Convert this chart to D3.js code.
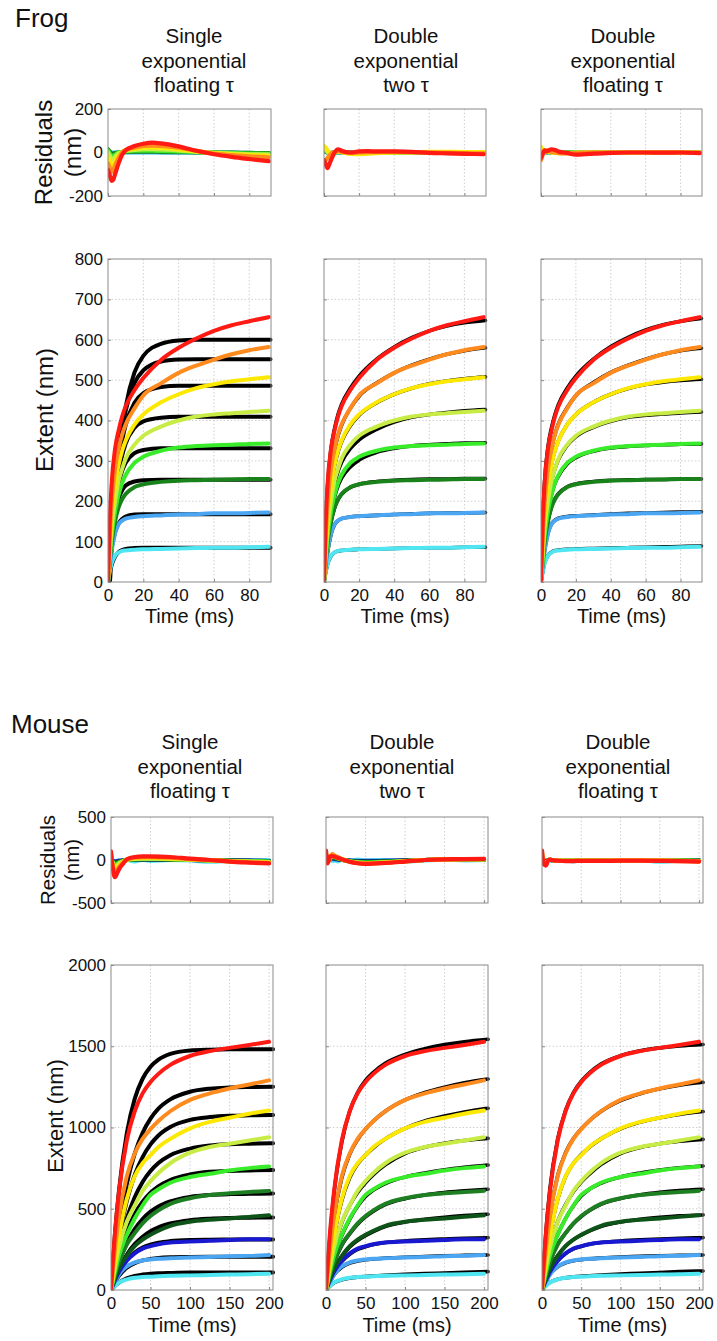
<!DOCTYPE html>
<html lang="en">
<head>
<meta charset="UTF-8">
<title>Frog / Mouse fits</title>
<script src="https://cdnjs.cloudflare.com/ajax/libs/d3/7.8.5/d3.min.js"></script>
<style>
  body { margin: 0; background: #fff; }
  text { font-family: "Liberation Sans", Arial, sans-serif; fill: #111; }
  .grid line { stroke: #c4c4c4; stroke-dasharray: 1.5 2; stroke-width: 0.8; }
  .box { fill: none; stroke: #8a8a8a; stroke-width: 1; }
  .axis path { display: none; }
  .axis line { stroke: #8a8a8a; }
</style>
</head>
<body>
<script>
// ---- data ----
const fitTitles = [["Single", "exponential", "floating \u03c4"],
                   ["Double", "exponential", "two \u03c4"],
                   ["Double", "exponential", "floating \u03c4"]];

// Frog: curves ordered bottom -> top
const frogColors = ["#4fe6f2", "#4aa6f2", "#1a821a", "#38ec2a", "#c8ec46", "#fce800", "#ff8a1e", "#ff1a14"];
const frogT    = [0, 1, 2, 4, 6, 8, 10, 15, 20, 30, 40, 50, 60, 70, 80, 91];
const frogFitT = [0, 1, 2, 4, 6, 8, 10, 15, 20, 30, 40, 50, 60, 70, 80, 92];
const frogResT = [0, 1, 2, 3, 4, 6, 8, 10, 15, 20, 25, 30, 40, 50, 60, 70, 80, 91];
const frogTimeTicks = [0, 20, 40, 60, 80];
const frogExtentTicks = [0, 100, 200, 300, 400, 500, 600, 700, 800];
const frogResTicks = [-200, 0, 200];

const frogData = [
  [0, 25, 45, 65, 73, 77, 78, 80, 81, 82, 83, 84, 85, 85, 86, 87],
  [0, 40, 75, 120, 143, 152, 157, 161, 163, 165, 167, 168, 170, 170, 171, 172],
  [0, 50, 95, 150, 185, 205, 218, 235, 242, 248, 251, 252, 253, 254, 255, 255],
  [0, 60, 110, 175, 215, 245, 265, 295, 310, 325, 333, 337, 339, 340, 342, 343],
  [0, 70, 130, 200, 250, 280, 305, 340, 362, 385, 400, 410, 415, 418, 421, 424],
  [0, 90, 160, 240, 290, 325, 350, 390, 415, 445, 465, 480, 490, 497, 502, 507],
  [0, 110, 190, 280, 330, 365, 390, 430, 462, 492, 518, 536, 551, 564, 574, 582],
  [0, 150, 240, 330, 375, 410, 435, 475, 505, 550, 580, 603, 622, 636, 646, 656]
];
const frogFitSingle = [
  [0, 24, 41, 63, 74, 79, 82, 84, 85, 85, 85, 85, 85, 85, 85, 85],
  [0, 48, 82, 124, 145, 156, 162, 167, 168, 168, 168, 168, 168, 168, 168, 168],
  [0, 63, 110, 172, 207, 227, 239, 249, 252, 253, 253, 253, 253, 253, 253, 253],
  [0, 66, 119, 195, 244, 275, 295, 319, 327, 331, 331, 331, 331, 331, 331, 331],
  [0, 68, 125, 211, 272, 313, 343, 382, 398, 407, 409, 409, 409, 409, 409, 409],
  [0, 53, 120, 224, 298, 351, 389, 444, 468, 483, 486, 486, 486, 486, 486, 486],
  [0, 41, 114, 230, 315, 378, 424, 493, 524, 546, 551, 552, 552, 552, 552, 552],
  [0, 0, 80, 209, 306, 379, 434, 519, 560, 590, 598, 600, 600, 600, 600, 600]
];
const frogFitTwoTau = [
  [0, 24, 44, 64, 73, 77, 78, 80, 81, 82, 83, 84, 85, 85, 86, 86],
  [0, 38, 72, 118, 142, 152, 157, 161, 163, 165, 167, 169, 170, 171, 171, 172],
  [0, 48, 92, 148, 183, 204, 217, 234, 242, 249, 252, 254, 255, 255, 256, 256],
  [0, 58, 105, 170, 210, 238, 257, 285, 302, 321, 331, 337, 340, 342, 344, 345],
  [0, 68, 125, 195, 243, 274, 296, 330, 352, 378, 396, 408, 415, 420, 424, 427],
  [0, 85, 155, 238, 288, 322, 347, 387, 413, 444, 465, 480, 491, 498, 503, 508],
  [0, 105, 185, 275, 328, 362, 388, 430, 460, 493, 518, 537, 552, 564, 573, 580],
  [0, 140, 235, 330, 380, 415, 440, 480, 510, 552, 582, 605, 622, 634, 642, 648]
];
const frogFitFloat = [
  [0, 25, 46, 66, 74, 78, 79, 81, 82, 83, 84, 85, 86, 87, 88, 89],
  [0, 40, 76, 121, 144, 153, 158, 162, 164, 166, 168, 170, 171, 172, 173, 174],
  [0, 50, 96, 151, 186, 206, 219, 236, 243, 249, 252, 253, 254, 254, 255, 255],
  [0, 60, 112, 176, 216, 244, 262, 292, 308, 324, 332, 336, 338, 340, 341, 342],
  [0, 72, 132, 202, 250, 280, 303, 338, 360, 383, 398, 408, 413, 416, 419, 421],
  [0, 90, 162, 242, 292, 326, 350, 390, 415, 445, 465, 479, 489, 495, 499, 502],
  [0, 112, 192, 282, 332, 366, 392, 432, 462, 494, 519, 537, 552, 564, 573, 579],
  [0, 150, 245, 335, 382, 415, 440, 480, 510, 552, 583, 606, 624, 637, 646, 653]
];
const frogResSingle = [
  [5, 2, 0, 0, 0, 0, 0, 1, 1, 1, 1, 1, 0, 0, 0, -2, -3, -5],
  [5, 0, -3, -2, -1, 0, 1, 1, 2, 2, 2, 1, 1, 0, 0, -1, -2, -3],
  [15, 5, -5, -5, -3, 0, 2, 3, 4, 4, 4, 3, 2, 1, 0, -1, -2, -3],
  [10, -5, -15, -15, -10, 0, 3, 5, 8, 8, 8, 7, 5, 2, -1, -3, -5, -6],
  [0, -15, -30, -30, -20, -5, 3, 8, 12, 15, 15, 14, 10, 4, -2, -5, -8, -10],
  [-20, -40, -60, -55, -40, -15, 0, 10, 18, 22, 24, 22, 15, 5, -3, -8, -12, -15],
  [-50, -70, -90, -80, -60, -25, 0, 12, 22, 30, 32, 30, 22, 8, -5, -12, -18, -22],
  [-80, -105, -130, -125, -100, -50, -10, 10, 30, 40, 45, 42, 28, 8, -8, -20, -30, -40]
];
const frogResTwoTau = [
  [3, 2, 0, -2, -1, 0, 1, 0, 0, 0, 0, 0, 0, 0, 0, 0, 0, 0],
  [5, 3, 0, -3, -2, 0, 1, 1, 0, 0, 0, 0, 0, 0, 0, 0, 0, 0],
  [8, 5, 0, -5, -3, 0, 2, 1, 0, 0, 0, 0, 0, 0, 0, 0, 0, -1],
  [12, 8, 2, -5, -5, 0, 3, 2, -2, -3, -2, -1, 0, 0, 1, 1, 0, -1],
  [20, 15, 5, -5, -5, 0, 3, 2, -4, -5, -3, -2, 0, 0, 2, 2, 1, 0],
  [30, 22, 10, 0, -3, 0, 4, 2, -6, -8, -5, -3, 0, 1, 3, 3, 2, 2],
  [-40, -35, -25, -15, -5, 2, 6, 4, -2, 0, 2, 2, 3, 2, 0, -2, -3, -4],
  [-35, -55, -72, -55, -35, 0, 15, 8, 0, 5, 6, 5, 5, 3, -2, -4, -6, -8]
];
const frogResFloat = [
  [2, 1, 0, 0, 0, 0, 0, 0, 0, 0, 0, 0, 0, 0, 0, 0, 0, 0],
  [5, 3, 2, 0, 0, 0, 0, 0, 0, 0, 0, 0, 0, 0, 0, 0, 0, 0],
  [8, 6, 3, 2, 1, 0, 0, 0, 0, 0, 0, 0, 0, 0, 0, 0, 0, 0],
  [12, 8, 5, 3, 2, 0, -1, -1, -1, 0, 0, 0, 0, 0, 0, 0, 0, 0],
  [18, 12, 8, 5, 3, 0, -2, -2, -2, -1, 0, 0, 0, 0, 0, 0, 0, 0],
  [25, 15, 10, 8, 5, 2, -2, -3, -3, -2, -1, 0, 0, 0, 0, 0, 0, -1],
  [-35, -10, 5, 10, 8, 3, 0, -3, -4, -3, -1, 0, 0, 0, 0, 0, 0, -1],
  [-25, -5, 10, 5, 8, 15, 12, 5, -2, -10, -8, -5, -2, 0, 0, -1, 0, -3]
];

// Mouse: curves ordered bottom -> top
const mouseColors = ["#4fe6f2", "#4aa6f2", "#1818d0", "#0e5418", "#1e7e22", "#38ec2a", "#c8ec46", "#fce800", "#ff8a1e", "#ff1a14"];
const mouseT    = [0, 5, 10, 20, 30, 40, 50, 60, 75, 100, 125, 150, 175, 200];
const mouseFitT = [0, 5, 10, 20, 30, 40, 50, 60, 75, 100, 125, 150, 175, 205];
const mouseResT = [0, 2, 5, 8, 10, 15, 20, 30, 40, 50, 75, 100, 125, 150, 175, 200];
const mouseTimeTicks = [0, 50, 100, 150, 200];
const mouseExtentTicks = [0, 500, 1000, 1500, 2000];
const mouseResTicks = [-500, 0, 500];

const mouseData = [
  [0, 25, 45, 65, 75, 80, 82, 85, 88, 90, 92, 95, 97, 100],
  [0, 50, 95, 145, 170, 182, 188, 192, 195, 200, 203, 208, 210, 215],
  [0, 60, 110, 180, 225, 255, 270, 282, 292, 298, 303, 308, 312, 312],
  [0, 70, 130, 210, 270, 310, 340, 365, 395, 420, 432, 440, 450, 460],
  [0, 90, 170, 280, 350, 410, 455, 490, 530, 565, 585, 595, 603, 610],
  [0, 110, 210, 340, 440, 520, 585, 620, 660, 695, 715, 735, 750, 760],
  [0, 140, 260, 420, 520, 610, 670, 720, 780, 845, 880, 900, 920, 940],
  [0, 180, 330, 560, 700, 780, 830, 880, 930, 995, 1035, 1060, 1085, 1105],
  [0, 250, 450, 700, 840, 930, 990, 1040, 1100, 1170, 1210, 1240, 1265, 1290],
  [0, 350, 600, 920, 1100, 1210, 1280, 1330, 1385, 1440, 1470, 1490, 1508, 1528]
];
const mouseFitSingle = [
  [0, 26, 46, 72, 87, 95, 100, 103, 105, 107, 107, 107, 107, 107],
  [0, 50, 87, 137, 165, 182, 191, 197, 201, 203, 204, 204, 204, 204],
  [0, 63, 114, 186, 231, 261, 279, 291, 301, 308, 310, 311, 311, 311],
  [0, 69, 126, 217, 282, 328, 362, 386, 409, 430, 439, 443, 445, 446],
  [0, 91, 168, 289, 375, 437, 482, 514, 545, 573, 585, 590, 592, 594],
  [0, 114, 209, 359, 466, 543, 599, 638, 677, 711, 727, 733, 736, 738],
  [0, 139, 256, 440, 571, 665, 732, 781, 829, 870, 889, 897, 900, 903],
  [0, 177, 323, 549, 708, 818, 896, 951, 1003, 1047, 1064, 1072, 1075, 1077],
  [0, 211, 388, 654, 839, 967, 1055, 1116, 1173, 1220, 1239, 1246, 1249, 1251],
  [0, 342, 606, 964, 1176, 1300, 1374, 1418, 1453, 1474, 1479, 1481, 1481, 1481]
];
const mouseFitTwoTau = [
  [0, 24, 44, 63, 73, 79, 83, 86, 90, 96, 101, 105, 109, 113],
  [0, 48, 92, 140, 165, 178, 186, 191, 196, 202, 206, 210, 213, 215],
  [0, 58, 108, 175, 220, 250, 266, 280, 292, 302, 309, 314, 318, 322],
  [0, 68, 128, 205, 265, 305, 335, 360, 390, 418, 435, 448, 458, 466],
  [0, 85, 165, 275, 345, 405, 450, 485, 525, 562, 585, 600, 610, 620],
  [0, 105, 205, 335, 435, 515, 575, 615, 655, 695, 720, 740, 755, 769],
  [0, 135, 255, 415, 520, 600, 660, 710, 770, 840, 878, 903, 920, 933],
  [0, 175, 325, 550, 690, 775, 830, 875, 930, 995, 1040, 1070, 1095, 1118],
  [0, 245, 440, 690, 835, 925, 990, 1040, 1100, 1170, 1215, 1248, 1275, 1298],
  [0, 330, 590, 910, 1100, 1215, 1290, 1340, 1395, 1450, 1485, 1510, 1528, 1543]
];
const mouseFitFloat = [
  [0, 26, 46, 66, 75, 81, 85, 88, 92, 98, 103, 108, 113, 117],
  [0, 50, 95, 143, 167, 180, 187, 192, 197, 203, 207, 211, 213, 215],
  [0, 62, 112, 180, 224, 253, 268, 281, 292, 302, 309, 314, 318, 322],
  [0, 72, 132, 212, 270, 310, 338, 362, 391, 418, 435, 447, 456, 462],
  [0, 92, 172, 282, 350, 408, 452, 487, 527, 563, 586, 601, 612, 620],
  [0, 112, 212, 342, 440, 518, 578, 618, 657, 696, 720, 738, 752, 763],
  [0, 142, 260, 422, 525, 605, 665, 712, 772, 840, 877, 900, 915, 927],
  [0, 182, 332, 558, 698, 780, 833, 878, 930, 992, 1033, 1060, 1080, 1098],
  [0, 255, 455, 705, 845, 932, 992, 1040, 1098, 1165, 1208, 1238, 1260, 1278],
  [0, 360, 620, 930, 1105, 1215, 1285, 1335, 1390, 1442, 1472, 1490, 1502, 1511]
];
const mouseResSingle = [
  [0, -5, -10, -25, -10, -20, 0, -15, 5, -10, 0, -5, -20, -10, 0, -5],
  [0, -5, -15, -10, -8, -3, 0, 2, 3, 3, 2, 0, -2, -4, -5, -8],
  [0, -8, -20, -15, -10, -5, 0, 3, 4, 4, 3, 0, -2, -5, -8, -12],
  [5, -10, -30, -25, -18, -8, 0, 5, 6, 6, 5, 1, -2, -6, -10, -14],
  [8, -15, -40, -32, -24, -10, 0, 8, 10, 10, 8, 2, -3, -8, -12, -16],
  [15, -20, -55, -45, -32, -12, 0, 10, 12, 12, 10, 3, -3, -10, -15, -20],
  [25, -30, -80, -65, -45, -18, 2, 14, 16, 16, 13, 4, -4, -12, -18, -24],
  [40, -45, -110, -90, -65, -25, 3, 20, 25, 25, 20, 7, -4, -14, -22, -30],
  [70, -60, -150, -115, -85, -35, 5, 28, 33, 33, 27, 10, -3, -16, -26, -34],
  [100, -80, -200, -150, -110, -45, 8, 35, 42, 42, 35, 15, 0, -18, -30, -40]
];
const mouseResTwoTau = [
  [0, -5, 0, -10, -5, -15, 0, -10, 5, -5, 0, -20, -5, 5, -5, 0],
  [10, 0, 5, 10, 8, 3, 0, -5, -8, -8, -6, -3, 0, 2, 2, 2],
  [20, 0, 8, 20, 15, 8, 2, -8, -12, -14, -10, -5, 0, 3, 3, 3],
  [30, -2, 10, 30, 22, 12, 3, -10, -18, -20, -15, -8, 0, 4, 5, 5],
  [40, -5, 12, 40, 30, 16, 4, -12, -22, -25, -19, -10, 0, 5, 6, 6],
  [50, -8, 15, 48, 38, 20, 5, -15, -26, -30, -23, -12, 0, 6, 7, 7],
  [60, -10, 15, 55, 45, 25, 8, -18, -30, -35, -27, -14, 0, 6, 8, 8],
  [75, -12, 18, 62, 50, 28, 10, -20, -33, -38, -30, -15, 0, 7, 9, 9],
  [90, -15, 18, 70, 55, 32, 12, -22, -36, -42, -32, -16, 0, 7, 9, 10],
  [110, -40, 40, 45, 40, 25, 10, -20, -38, -45, -35, -18, 0, 8, 10, 12]
];
const mouseResFloat = [
  [0, -5, -5, 0, -5, -10, 0, -5, -15, 0, -5, -10, 0, -20, -5, 0],
  [10, -5, -8, 0, 0, -1, -1, -2, -2, -2, -1, -1, -1, -1, -2, -3],
  [20, -10, -15, 0, 1, -2, -2, -3, -3, -3, -2, -2, -2, -2, -3, -4],
  [30, -15, -22, 0, 1, -2, -3, -4, -4, -4, -3, -3, -3, -3, -5, -6],
  [45, -20, -30, 0, 2, -2, -3, -5, -5, -5, -4, -4, -4, -4, -6, -8],
  [55, -25, -38, 0, 2, -3, -4, -6, -6, -6, -5, -4, -4, -5, -7, -10],
  [70, -30, -45, 0, 3, -3, -5, -8, -8, -7, -6, -5, -5, -6, -9, -12],
  [80, -35, -52, 0, 3, -4, -6, -9, -9, -8, -7, -6, -6, -7, -10, -14],
  [95, -38, -58, 0, 4, -4, -7, -10, -10, -9, -8, -7, -7, -8, -12, -16],
  [110, -40, -65, 0, 5, -5, -8, -12, -12, -10, -10, -8, -8, -10, -14, -18]
];

// ---- layout ----
const W = 717, H = 1341;
const svg = d3.select("body").append("svg").attr("width", W).attr("height", H);

let clipId = 0;

// one boxed panel with dotted grid and lines
function panel(opt) {
  const x = d3.scaleLinear().domain(opt.xDomain).range([opt.left, opt.right]);
  const y = d3.scaleLinear().domain(opt.yDomain).range([opt.bottom, opt.top]);
  const g = svg.append("g");

  const grid = g.append("g").attr("class", "grid");
  grid.selectAll(".gx").data(opt.xTicks.filter(d => d > opt.xDomain[0] && d < opt.xDomain[1]))
    .join("line").attr("x1", d => x(d)).attr("x2", d => x(d)).attr("y1", opt.top).attr("y2", opt.bottom);
  grid.selectAll(".gy").data(opt.yTicks.filter(d => d > opt.yDomain[0] && d < opt.yDomain[1]))
    .join("line").attr("y1", d => y(d)).attr("y2", d => y(d)).attr("x1", opt.left).attr("x2", opt.right);

  // inward tick marks, labels only where the reference has them
  const ax = g.append("g").attr("class", "axis").attr("transform", `translate(0,${opt.bottom})`)
    .call(d3.axisBottom(x).tickValues(opt.xTicks).tickSize(-3).tickPadding(7).tickFormat(d => String(d)));
  if (!opt.xLabels) ax.selectAll("text").remove();
  else ax.selectAll("text").style("font-size", "17px").attr("fill", "#111");

  const ay = g.append("g").attr("class", "axis").attr("transform", `translate(${opt.left},0)`)
    .call(d3.axisLeft(y).tickValues(opt.yTicks).tickSize(-3).tickPadding(5).tickFormat(d => String(d)));
  if (!opt.yLabels) ay.selectAll("text").remove();
  else ay.selectAll("text").style("font-size", "17px").attr("fill", "#111");

  const id = "clip" + (clipId++);
  g.append("clipPath").attr("id", id).append("rect")
    .attr("x", opt.left).attr("y", opt.top - 2)
    .attr("width", opt.right - opt.left + 2).attr("height", opt.bottom - opt.top + 2);
  const plot = g.append("g").attr("clip-path", `url(#${id})`);

  opt.series.forEach(s => {
    const line = d3.line().x((d, i) => x(s.t[i])).y(d => y(d)).curve(d3.curveMonotoneX);
    plot.append("path").datum(s.v)
      .attr("d", line).attr("fill", "none")
      .attr("stroke", s.color).attr("stroke-width", s.width)
      .attr("stroke-linejoin", "round").attr("stroke-linecap", "round");
  });

  g.append("rect").attr("class", "box")
    .attr("x", opt.left).attr("y", opt.top)
    .attr("width", opt.right - opt.left).attr("height", opt.bottom - opt.top);
}

function rotLabel(text, cx, cy, size) {
  svg.append("text").attr("transform", `translate(${cx},${cy}) rotate(-90)`)
    .attr("text-anchor", "middle").attr("dy", "0.35em")
    .style("font-size", size + "px").text(text);
}

function group(cfg) {
  svg.append("text").attr("x", cfg.nameX).attr("y", cfg.nameY)
    .style("font-size", "26px").text(cfg.name);

  cfg.cols.forEach((col, c) => {
    const t = svg.append("text").attr("text-anchor", "middle").style("font-size", "20.5px");
    fitTitles[c].forEach((s, i) => {
      t.append("tspan").attr("x", cfg.titleX[c]).attr("y", cfg.titleY + i * 24.5).text(s);
    });

    // residuals
    panel({
      left: col[0], right: col[1], top: cfg.resY[0], bottom: cfg.resY[1],
      xDomain: cfg.xDomain, yDomain: [cfg.resTicks[0], cfg.resTicks[2]],
      xTicks: cfg.timeTicks, yTicks: cfg.resTicks, xLabels: false, yLabels: c === 0,
      series: cfg.res[c].map((v, i) => ({ t: cfg.resT, v, color: cfg.colors[i], width: 4.2 }))
    });
    // extent: fitted lines first, data traces over them
    const series = [];
    cfg.fits[c].forEach(v => series.push({ t: cfg.fitT, v, color: "#000", width: c === 0 ? 4 : 3.6 }));
    cfg.data.forEach((v, i) => series.push({ t: cfg.dataT, v, color: cfg.colors[i], width: 4 }));
    panel({
      left: col[0], right: col[1], top: cfg.extY[0], bottom: cfg.extY[1],
      xDomain: cfg.xDomain, yDomain: [cfg.extTicks[0], cfg.extTicks[cfg.extTicks.length - 1]],
      xTicks: cfg.timeTicks, yTicks: cfg.extTicks, xLabels: true, yLabels: c === 0,
      series
    });

    svg.append("text").attr("x", (col[0] + col[1]) / 2).attr("y", cfg.timeLabelY)
      .attr("text-anchor", "middle").style("font-size", "20px").text("Time (ms)");
  });

  rotLabel("Residuals", cfg.resLabelX[0], (cfg.resY[0] + cfg.resY[1]) / 2, cfg.resLabelSize);
  rotLabel("(nm)", cfg.resLabelX[1], (cfg.resY[0] + cfg.resY[1]) / 2, cfg.resLabelSize);
  rotLabel("Extent (nm)", cfg.extLabelX, cfg.extLabelY, cfg.extLabelSize);
}

group({
  name: "Frog", nameX: 15, nameY: 27,
  cols: [[108, 271], [324, 486], [541, 702]],
  titleX: [194, 406, 623], titleY: 43,
  resY: [109, 196], extY: [259, 582],
  xDomain: [0, 92.3],
  timeTicks: frogTimeTicks, extTicks: frogExtentTicks, resTicks: frogResTicks,
  colors: frogColors, dataT: frogT, fitT: frogFitT, resT: frogResT,
  data: frogData,
  fits: [frogFitSingle, frogFitTwoTau, frogFitFloat],
  res: [frogResSingle, frogResTwoTau, frogResFloat],
  timeLabelY: 623,
  resLabelX: [44, 73], resLabelSize: 24,
  extLabelX: 45, extLabelY: 410, extLabelSize: 24
});

group({
  name: "Mouse", nameX: 11, nameY: 733,
  cols: [[111, 273], [326, 488], [542, 703]],
  titleX: [190, 402, 618], titleY: 749,
  resY: [817, 903], extY: [965, 1290],
  xDomain: [0, 205],
  timeTicks: mouseTimeTicks, extTicks: mouseExtentTicks, resTicks: mouseResTicks,
  colors: mouseColors, dataT: mouseT, fitT: mouseFitT, resT: mouseResT,
  data: mouseData,
  fits: [mouseFitSingle, mouseFitTwoTau, mouseFitFloat],
  res: [mouseResSingle, mouseResTwoTau, mouseResFloat],
  timeLabelY: 1332,
  resLabelX: [48, 72], resLabelSize: 20.5,
  extLabelX: 55, extLabelY: 1116, extLabelSize: 22
});
</script>
</body>
</html>
